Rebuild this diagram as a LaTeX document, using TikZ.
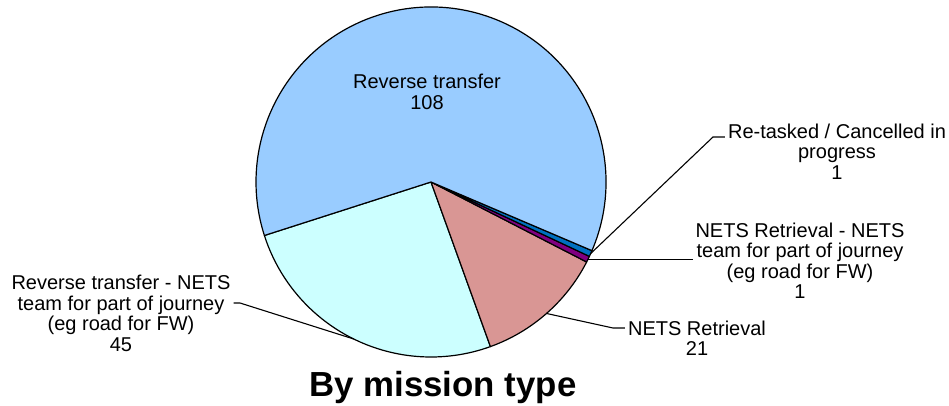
\documentclass[tikz,border=0pt]{standalone}
\usepackage{fontspec}
\setmainfont{Liberation Sans}
\definecolor{skyslice}{RGB}{153,204,255}
\definecolor{cyanslice}{RGB}{204,255,255}
\definecolor{pinkslice}{RGB}{217,150,148}
\definecolor{purpleslice}{RGB}{128,0,128}
\definecolor{blueslice}{RGB}{0,112,192}
\begin{document}
\begin{tikzpicture}[x=1pt,y=1pt]
	\tikzstyle{Slice} = [draw=black, line width=1.2pt, line join=round]
	\tikzstyle{Label} = [align=center, inner sep=0pt, font=\fontsize{20}{20.5}\selectfont]
	\tikzstyle{leader} = [line width=1.1pt, black]
	
	\useasboundingbox (0,0) rectangle (949,405);
	\coordinate (o) at (431,223);
	
	% slices, counterclockwise from the left edge
	\foreach \a/\b/\col in {197.8/289.85/cyanslice, 289.85/332.8/pinkslice, 332.8/334.85/purpleslice, 334.85/336.9/blueslice, 336.9/557.8/skyslice}
		\draw [Slice, fill=\col] (o) -- ++(\a:175) arc [start angle=\a, end angle=\b, radius=175] -- cycle;
	
	\node (rt) [Label] at (427,313) {Reverse transfer\\108};
	\node (rtn) [Label] at (121,91.5) {Reverse transfer - NETS\\team for part of journey\\(eg road for FW)\\45};
	\node (nr) [Label] at (697,67) {NETS Retrieval\\21};
	\node (nrn) [Label] at (800,144) {NETS Retrieval - NETS\\team for part of journey\\(eg road for FW)\\1};
	\node (rc) [Label] at (837,253.6) {Re-tasked / Cancelled in\\progress\\1};
	\node (title) [font=\fontsize{34.8}{40}\selectfont\bfseries, anchor=base] at (443,9) {By mission type};
	
	% leader lines
	\coordinate (e1) at ([shift={(335.9:175)}]o);
	\coordinate (e2) at ([shift={(333.8:175)}]o);
	\coordinate (e3) at ([shift={(311.3:175)}]o);
	\coordinate (e4) at ([shift={(243.8:175)}]o);
	\coordinate (k1) at (713,268);
	\coordinate (k3) at (613,77);
	\coordinate (k4) at (240,102);
	
	\draw [leader] (e1) -- (k1) -- ([xshift=-3pt]rc.west |- k1);
	\draw [leader] (e2) -- ([xshift=-2pt]nrn.west |- e2);
	\draw [leader] (e3) -- (k3) -- ([xshift=-3pt]nr.west |- k3);
	\draw [leader] (e4) -- (k4) -- ([xshift=3pt]rtn.east |- k4);
\end{tikzpicture}
\end{document}
